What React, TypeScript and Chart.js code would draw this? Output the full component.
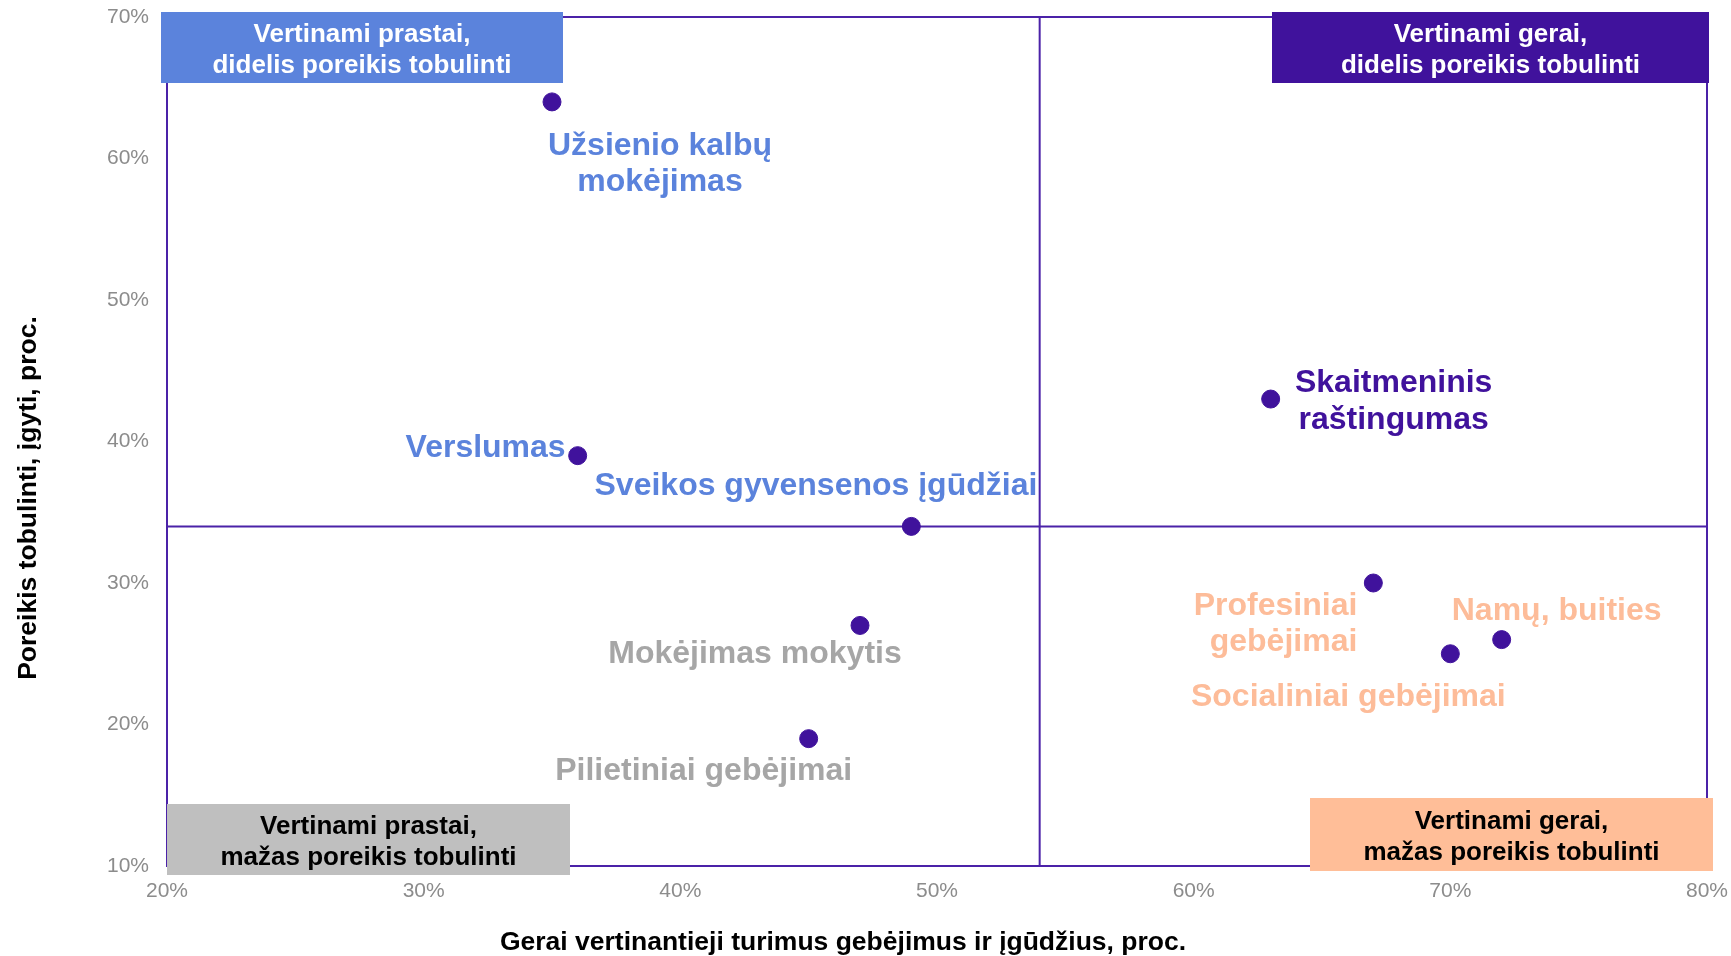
import React, { useEffect, useRef } from "react";
import { Chart, registerables } from "chart.js";

Chart.register(...registerables);

const skillNames: string[][] = [
  ["Užsienio kalbų", "mokėjimas"],
  ["Verslumas"],
  ["Sveikos gyvensenos įgūdžiai"],
  ["Mokėjimas mokytis"],
  ["Pilietiniai gebėjimai"],
  ["Skaitmeninis", "raštingumas"],
  ["Profesiniai", "gebėjimai"],
  ["Socialiniai gebėjimai"],
  ["Namų, buities"],
];
const goodRating: number[] = [35, 36, 49, 47, 45, 63, 67, 70, 72];
const needToImprove: number[] = [64, 39, 34, 27, 19, 43, 30, 25, 26];

const xThreshold = 54;
const yThreshold = 34;

const xTicks: number[] = [20, 30, 40, 50, 60, 70, 80];
const yTicks: number[] = [10, 20, 30, 40, 50, 60, 70];

const xTitle = "Gerai vertinantieji turimus gebėjimus ir įgūdžius, proc.";
const yTitle = "Poreikis tobulinti, įgyti, proc.";

const quadrantTexts = {
  tl: ["Vertinami prastai,", "didelis poreikis tobulinti"],
  tr: ["Vertinami gerai,", "didelis poreikis tobulinti"],
  bl: ["Vertinami prastai,", "mažas poreikis tobulinti"],
  br: ["Vertinami gerai,", "mažas poreikis tobulinti"],
};

// label placement (pixel offsets from point), styling only
const labelPlacement: { dx: number; dy: number[]; align: CanvasTextAlign }[] = [
  { dx: 108, dy: [44, 80], align: "center" },
  { dx: -12, dy: [-7], align: "right" },
  { dx: 126, dy: [-40], align: "right" },
  { dx: -105, dy: [29], align: "center" },
  { dx: -105, dy: [33], align: "center" },
  { dx: 123, dy: [-16, 21], align: "center" },
  { dx: -16, dy: [23, 59], align: "right" },
  { dx: -102, dy: [43], align: "center" },
  { dx: 55, dy: [-28], align: "center" },
];

const FONT = '"Liberation Sans", Arial, sans-serif';
const PURPLE = "#40129c";
const LINE = "#4b22a8";
const BLUE = "#5b83dc";
const PEACH = "#fdbc99";
const GRAY_LBL = "#a6a6a6";
const colorFor = (x: number, y: number) =>
  y >= yThreshold ? (x < xThreshold ? BLUE : PURPLE) : x < xThreshold ? GRAY_LBL : PEACH;

const quadPlugin = {
  id: "quad",
  beforeDatasetsDraw(chart: any) {
    const { ctx, chartArea: a, scales } = chart;
    ctx.save();
    ctx.strokeStyle = LINE;
    ctx.lineWidth = 2;
    ctx.strokeRect(a.left, a.top, a.right - a.left, a.bottom - a.top);
    const mx = scales.x.getPixelForValue(xThreshold);
    const my = scales.y.getPixelForValue(yThreshold);
    ctx.beginPath();
    ctx.moveTo(mx, a.top);
    ctx.lineTo(mx, a.bottom);
    ctx.moveTo(a.left, my);
    ctx.lineTo(a.right, my);
    ctx.stroke();
    ctx.restore();
  },
  afterDatasetsDraw(chart: any) {
    const { ctx, chartArea: a, scales } = chart;
    ctx.save();
    // point labels
    ctx.font = `bold 32px ${FONT}`;
    ctx.textBaseline = "middle";
    skillNames.forEach((lines, i) => {
      const px = scales.x.getPixelForValue(goodRating[i]);
      const py = scales.y.getPixelForValue(needToImprove[i]);
      const p = labelPlacement[i];
      ctx.fillStyle = colorFor(goodRating[i], needToImprove[i]);
      ctx.textAlign = p.align;
      lines.forEach((t, j) => ctx.fillText(t, px + p.dx, py + p.dy[j]));
    });
    // quadrant boxes
    const boxes = [
      { l: a.left - 6, t: a.top - 5, w: 402, h: 71, fill: BLUE, col: "#ffffff", txt: quadrantTexts.tl },
      { l: a.right - 435, t: a.top - 5, w: 437, h: 71, fill: PURPLE, col: "#ffffff", txt: quadrantTexts.tr },
      { l: a.left, t: a.bottom - 62, w: 403, h: 71, fill: "#bfbfbf", col: "#000000", txt: quadrantTexts.bl },
      { l: a.right - 397, t: a.bottom - 68, w: 403, h: 73, fill: "#ffbe98", col: "#000000", txt: quadrantTexts.br },
    ];
    ctx.font = `bold 26px ${FONT}`;
    ctx.textAlign = "center";
    boxes.forEach((b) => {
      ctx.fillStyle = b.fill;
      ctx.fillRect(b.l, b.t, b.w, b.h);
      ctx.fillStyle = b.col;
      const cx = b.l + b.w / 2;
      const cy = b.t + b.h / 2;
      ctx.fillText(b.txt[0], cx, cy - 13);
      ctx.fillText(b.txt[1], cx, cy + 18);
    });
    // axis titles
    ctx.fillStyle = "#000000";
    ctx.font = `bold 26.5px ${FONT}`;
    ctx.textAlign = "center";
    ctx.fillText(xTitle, 843, 943);
    ctx.translate(29, 498);
    ctx.rotate(-Math.PI / 2);
    ctx.fillText(yTitle, 0, 0);
    ctx.restore();
  },
};

export default function App() {
  const ref = useRef<HTMLCanvasElement | null>(null);
  useEffect(() => {
    document.body.style.margin = "0";
    const canvas = ref.current!;
    const chart = new Chart(canvas, {
      type: "scatter",
      data: {
        datasets: [
          {
            data: goodRating.map((x, i) => ({ x, y: needToImprove[i] })),
            backgroundColor: PURPLE,
            borderColor: PURPLE,
            pointRadius: 9,
            pointHoverRadius: 9,
          },
        ],
      },
      options: {
        animation: false,
        responsive: false,
        layout: { padding: { left: 0, top: 17, right: 24, bottom: 0 } },
        plugins: { legend: { display: false }, tooltip: { enabled: false } },
        scales: {
          x: {
            type: "linear",
            min: 20,
            max: 80,
            grid: { display: false, drawTicks: false },
            border: { display: false },
            afterBuildTicks: (s: any) => {
              s.ticks = xTicks.map((v) => ({ value: v }));
            },
            afterFit: (s: any) => {
              s.height = 90;
              s.paddingLeft = 0;
              s.paddingRight = 0;
            },
            ticks: {
              padding: 13,
              color: "#8c8c8c",
              font: { size: 21, family: FONT },
              maxRotation: 0,
              callback: (v: any) => `${v}%`,
            },
          },
          y: {
            type: "linear",
            min: 10,
            max: 70,
            grid: { display: false, drawTicks: false },
            border: { display: false },
            afterBuildTicks: (s: any) => {
              s.ticks = yTicks.map((v) => ({ value: v }));
            },
            afterFit: (s: any) => {
              s.width = 167;
              s.paddingTop = 0;
              s.paddingBottom = 0;
            },
            ticks: {
              padding: 18,
              color: "#8c8c8c",
              font: { size: 21, family: FONT },
              callback: (v: any) => `${v}%`,
            },
          },
        },
      },
      plugins: [quadPlugin],
    });
    return () => chart.destroy();
  }, []);
  return (
    <div style={{ position: "fixed", left: 0, top: 0, width: 1731, height: 956, background: "#fff" }}>
      <canvas ref={ref} width={1731} height={956} style={{ display: "block" }} />
    </div>
  );
}
